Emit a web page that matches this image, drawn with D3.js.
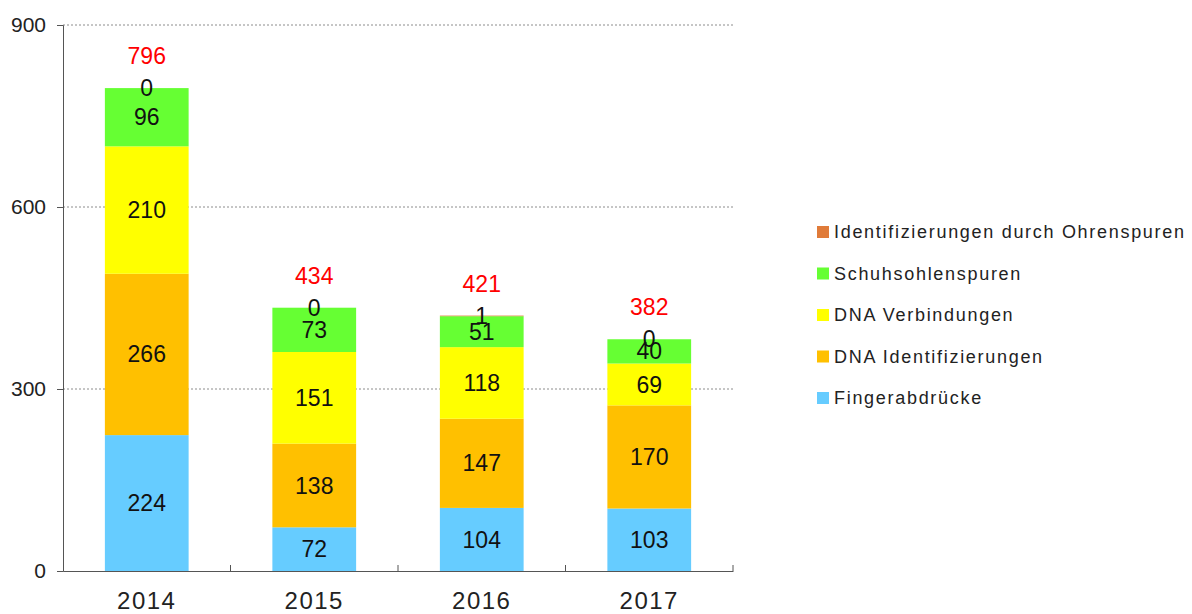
<!DOCTYPE html>
<meta charset="utf-8">
<script src="https://d3js.org/d3.v7.min.js"></script>
<style>
  body { margin: 0; background: white; font-family: "Liberation Sans", Arial, sans-serif; }
</style>
<div id="chart"></div>
<script>
// data
var years = ["2014", "2015", "2016", "2017"];
var seriesNames = ["Fingerabdrücke", "DNA Identifizierungen", "DNA Verbindungen", "Schuhsohlenspuren", "Identifizierungen durch Ohrenspuren"];
var fingerabdruecke = [224, 72, 104, 103];
var dnaIdent = [266, 138, 147, 170];
var dnaVerb = [210, 151, 118, 69];
var schuhsohlen = [96, 73, 51, 40];
var ohrenspuren = [0, 0, 1, 0];
var totals = [796, 434, 421, 382];
var yTicks = [0, 300, 600, 900];
var colors = ["#66ccff", "#ffc000", "#ffff00", "#66ff33", "#e07b39"];

var W = 1192, H = 614;
var margin = {top: 25, right: 459, bottom: 43, left: 63};
var width = W - margin.left - margin.right,
    height = H - margin.top - margin.bottom;

var svg = d3.select("#chart").append("svg")
    .attr("width", W).attr("height", H)
  .append("g")
    .attr("transform", "translate(" + margin.left + "," + margin.top + ")");

var rows = years.map(function(y, i) {
  return {year: y, s0: fingerabdruecke[i], s1: dnaIdent[i], s2: dnaVerb[i], s3: schuhsohlen[i], s4: ohrenspuren[i], total: totals[i]};
});
var keys = ["s0", "s1", "s2", "s3", "s4"];
var stacked = d3.stack().keys(keys)(rows);

var x = d3.scaleBand().domain(years).range([0, width]).paddingInner(0.5).paddingOuter(0.25);
var y = d3.scaleLinear().domain([0, 900]).range([height, 0]);

// grid
svg.selectAll(".grid").data(yTicks.slice(1)).enter().append("line")
    .attr("x1", 0).attr("x2", width)
    .attr("y1", function(d) { return y(d); }).attr("y2", function(d) { return y(d); })
    .attr("stroke", "#8c8c8c").attr("stroke-dasharray", "2,2").attr("stroke-width", 1);

// bars
var layer = svg.selectAll(".layer").data(stacked).enter().append("g")
    .attr("fill", function(d, i) { return colors[i]; });
layer.selectAll("rect").data(function(d) { return d; }).enter().append("rect")
    .attr("x", function(d) { return x(d.data.year); })
    .attr("width", x.bandwidth())
    .attr("y", function(d) { return y(d[1]); })
    .attr("height", function(d) { return y(d[0]) - y(d[1]); });

// segment labels
layer.selectAll("text").data(function(d) { return d; }).enter().append("text")
    .attr("x", function(d) { return x(d.data.year) + x.bandwidth() / 2; })
    .attr("y", function(d) { return y((d[0] + d[1]) / 2); })
    .attr("dy", "0.35em")
    .attr("text-anchor", "middle")
    .attr("fill", "#111")
    .style("font-size", "23px")
    .text(function(d) { return d[1] - d[0]; });

// totals
svg.selectAll(".total").data(rows).enter().append("text")
    .attr("x", function(d) { return x(d.year) + x.bandwidth() / 2; })
    .attr("y", function(d) { return y(d.total) - 32; })
    .attr("dy", "0.35em")
    .attr("text-anchor", "middle")
    .attr("fill", "#ff0000")
    .style("font-size", "23px")
    .text(function(d) { return d.total; });

// axes
var yAxis = svg.append("g").call(d3.axisLeft(y).tickValues(yTicks).tickSize(6).tickPadding(11));
var xAxis = svg.append("g").attr("transform", "translate(0," + height + ")")
    .call(d3.axisBottom(x).tickSize(0).tickPadding(21));
[yAxis, xAxis].forEach(function(a) {
  a.select(".domain").attr("stroke", "#555");
  a.selectAll("line").attr("stroke", "#555");
  a.selectAll("text").attr("fill", "#222").style("font-family", "Liberation Sans, Arial, sans-serif");
});
yAxis.selectAll("text").style("font-size", "21px");
xAxis.selectAll("text").style("font-size", "24px").style("letter-spacing", "1.5px");
// category separators on x axis
svg.selectAll(".sep").data(years.slice(1)).enter().append("line")
    .attr("x1", function(d) { return x(d) - x.step() * x.paddingInner() / 2; })
    .attr("x2", function(d) { return x(d) - x.step() * x.paddingInner() / 2; })
    .attr("y1", height).attr("y2", height - 6)
    .attr("stroke", "#555");
svg.append("line").attr("x1", width).attr("x2", width).attr("y1", height).attr("y2", height - 6).attr("stroke", "#555");

// legend (reverse order)
var legend = svg.append("g").attr("transform", "translate(" + (817 - margin.left) + "," + (232 - margin.top) + ")");
var legendOrder = [4, 3, 2, 1, 0];
var li = legend.selectAll("g").data(legendOrder).enter().append("g")
    .attr("transform", function(d, i) { return "translate(0," + (i * 41.5) + ")"; });
li.append("rect").attr("x", 0).attr("y", -6).attr("width", 12).attr("height", 12)
    .attr("fill", function(d) { return colors[d]; });
li.append("text").attr("x", 17).attr("dy", "0.35em")
    .attr("fill", "#222").style("font-size", "18px").style("letter-spacing", "1.7px")
    .text(function(d) { return seriesNames[d]; });
</script>
